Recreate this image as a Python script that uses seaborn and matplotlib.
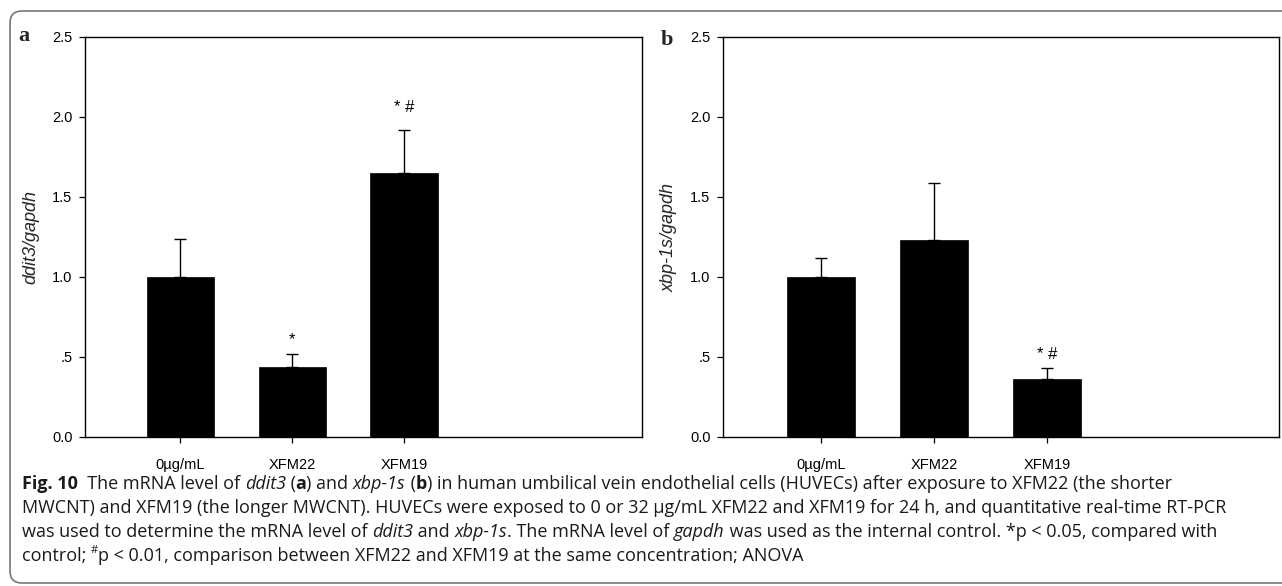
import matplotlib
matplotlib.use("Agg")
import matplotlib.pyplot as plt
import matplotlib.transforms as mtransforms
from matplotlib.patches import FancyBboxPatch
import seaborn as sns
import pandas as pd

# ---------------- data ----------------
groups = ["0µg/mL", "XFM22", "XFM19"]
ddit3_mean = [1.00, 0.44, 1.65]
ddit3_err = [0.24, 0.08, 0.27]
xbp_mean = [1.00, 1.23, 0.36]
xbp_err = [0.12, 0.36, 0.07]
ddit3_marks = ["", "*", "* #"]
xbp_marks = ["", "", "* #"]
yticks = [0.0, 0.5, 1.0, 1.5, 2.0, 2.5]
ytick_labels = ["0.0", ".5", "1.0", "1.5", "2.0", "2.5"]
ylabels = ["ddit3/gapdh", "xbp-1s/gapdh"]
panel_letters = ["a", "b"]

caption_lines = [
    [("Fig. 10", "bold"), ("  The mRNA level of ", "normal"), ("ddit3", "italic"),
     (" (", "normal"), ("a", "bold"), (") and ", "normal"), ("xbp-1s", "italic"),
     (" (", "normal"), ("b", "bold"),
     (") in human umbilical vein endothelial cells (HUVECs) after exposure to XFM22 (the shorter", "normal")],
    [("MWCNT) and XFM19 (the longer MWCNT). HUVECs were exposed to 0 or 32 µg/mL XFM22 and XFM19 for 24 h, and quantitative real-time RT-PCR", "normal")],
    [("was used to determine the mRNA level of ", "normal"), ("ddit3", "italic"), (" and ", "normal"),
     ("xbp-1s", "italic"), (". The mRNA level of ", "normal"), ("gapdh", "italic"),
     (" was used as the internal control. *p < 0.05, compared with", "normal")],
    [("control; ", "normal"), ("#", "sup"),
     ("p < 0.01, comparison between XFM22 and XFM19 at the same concentration; ANOVA", "normal")],
]

# ---------------- figure ----------------
sns.set_style("ticks")
plt.rcParams["font.family"] = ["Liberation Sans", "DejaVu Sans"]

W, H = 1282, 586
fig = plt.figure(figsize=(W / 100, H / 100), dpi=100)
fig.patch.set_facecolor("white")

def px_axes(x0, x1, ytop, ybot):
    return fig.add_axes([x0 / W, 1 - ybot / H, (x1 - x0) / W, (ybot - ytop) / H])

axes = [px_axes(85, 642, 37, 437), px_axes(723, 1279, 37, 437)]
xlims = [(-0.85, 4.125), (-0.87, 4.05)]
label_x = [-0.082, -0.082]
mark_gap = [[0.04, 0.04, 0.09], [0.04, 0.04, 0.04]]
data = [(ddit3_mean, ddit3_err, ddit3_marks), (xbp_mean, xbp_err, xbp_marks)]

for i, ax in enumerate(axes):
    mean, err, marks = data[i]
    df = pd.DataFrame({"group": groups, "value": mean})
    sns.barplot(data=df, x="group", y="value", color="black", saturation=1,
                width=0.6, errorbar=None, ax=ax, edgecolor="black", linewidth=0.5)
    xs = list(range(len(groups)))
    ax.errorbar(xs, mean, yerr=[[0] * len(err), err], fmt="none", ecolor="black",
                elinewidth=1.0, capsize=4.5, capthick=1.0)
    for x, m, e, s, g in zip(xs, mean, err, marks, mark_gap[i]):
        if s:
            ax.text(x, m + e + g, s, ha="center", va="bottom", fontsize=12,
                    color="black")
    ax.set_xlim(*xlims[i])
    ax.set_ylim(0, 2.5)
    ax.set_yticks(yticks)
    ax.set_yticklabels(ytick_labels)
    ax.set_xticks(xs)
    ax.set_xticklabels(groups)
    ax.set_xlabel("")
    ax.set_ylabel(ylabels[i], fontsize=13, fontstyle="italic")
    ax.yaxis.set_label_coords(label_x[i], 0.5)
    for sp in ax.spines.values():
        sp.set_visible(True)
        sp.set_color("black")
        sp.set_linewidth(1.0)
    ax.tick_params(axis="both", direction="out", length=4, width=0.9,
                   color="black", labelsize=10.5, labelcolor="black")
    ax.tick_params(axis="x", pad=11)
    ax.tick_params(axis="y", pad=5)
    ax.grid(False)

fig.text(24 / W, 1 - 41 / H, panel_letters[0], fontsize=16, fontweight="bold",
         family=["Liberation Serif", "DejaVu Serif"], ha="center", va="baseline")
fig.text(667 / W, 1 - 45 / H, panel_letters[1], fontsize=16, fontweight="bold",
         family=["Liberation Serif", "DejaVu Serif"], ha="center", va="baseline")

# ---------------- caption ----------------
renderer = fig.canvas.get_renderer()
cap_family = ["Open Sans", "DejaVu Sans"]

def style_kw(style, fs):
    kw = dict(family=cap_family, fontsize=fs, color="#1a1a1a")
    if style == "bold":
        kw["fontweight"] = "bold"
    elif style == "italic":
        kw["fontstyle"] = "italic"
    elif style == "sup":
        kw["fontsize"] = fs * 0.62
    return kw

def seg_width(text, style, fs):
    kw = style_kw(style, fs)
    t1 = fig.text(0, 0, "|" + text + "|", **kw)
    t2 = fig.text(0, 0, "||", **kw)
    w = t1.get_window_extent(renderer).width - t2.get_window_extent(renderer).width
    t1.remove()
    t2.remove()
    return w

def line_width(segs, fs):
    return sum(seg_width(t, s, fs) for t, s in segs)

targets = [1198 - 22, 1218 - 22, 1195 - 22]
fs0 = 10.0
measured = sum(line_width(caption_lines[k], fs0) for k in range(3))
fs = fs0 * sum(targets) / measured

baselines = [489, 513, 537, 561]
for segs, yb in zip(caption_lines, baselines):
    x = 22.0
    for text, style in segs:
        kw = style_kw(style, fs)
        y = yb - (fs * 0.45 * 100 / 72 if style == "sup" else 0)
        fig.text(x / W, 1 - y / H, text, ha="left", va="baseline", **kw)
        x += seg_width(text, style, fs)

# ---------------- frame ----------------
frame = FancyBboxPatch((10, 3), 1300, 572, boxstyle="round,pad=0,rounding_size=12",
                       transform=mtransforms.IdentityTransform(), fill=False,
                       edgecolor="#777777", linewidth=1.2, clip_on=False)
fig.add_artist(frame)

fig.savefig("out.png", dpi=100)
